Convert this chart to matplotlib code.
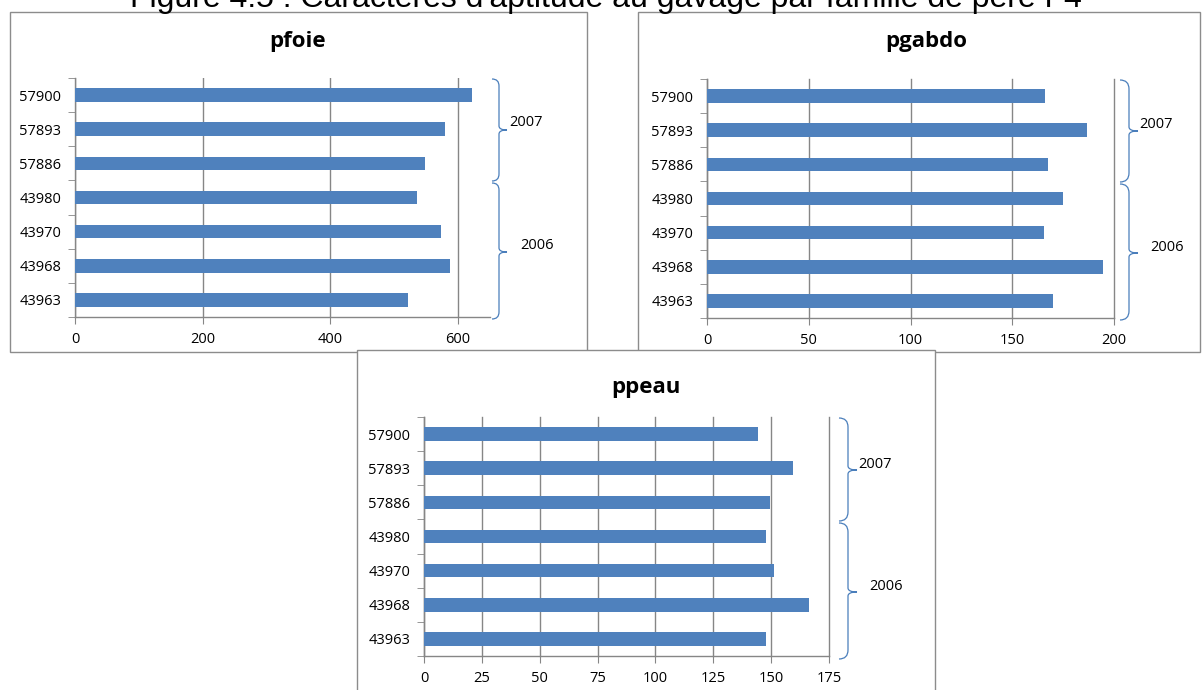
import numpy as np
import matplotlib
matplotlib.use('Agg')
import matplotlib.pyplot as plt
from matplotlib.patches import Rectangle, PathPatch
from matplotlib.path import Path
from matplotlib.transforms import Affine2D

# sire families, bottom to top
families = ['43963', '43968', '43970', '43980', '57886', '57893', '57900']
pfoie = [521, 588, 573, 535, 548, 580, 622]
pgabdo = [170.2, 194.5, 165.4, 175.0, 167.8, 186.7, 166.2]
ppeau = [147.7, 166.4, 151.3, 147.7, 149.7, 159.6, 144.5]
years = ['2006', '2007']

W, H = 1203, 690
fig = plt.figure(figsize=(W / 100, H / 100), dpi=100)
# pixel coords, origin top-left
pix = Affine2D().scale(1.0 / W, -1.0 / H).translate(0, 1) + fig.transFigure

blue = '#4f81bd'
grey = '#868686'
tickfont = 'Open Sans'


def box(x0, y0, x1, y1, z):
    fig.add_artist(Rectangle((x0, y1), x1 - x0, y0 - y1, transform=pix,
                             facecolor='white', edgecolor='#8c8c8c', lw=1.0, zorder=z))


def brace(x0, xm, xc, ytop, ycusp, ybot):
    r = xm - x0
    verts = [(x0, ytop), (xm, ytop), (xm, ytop + r),
             (xm, ycusp - 4), (xm, ycusp), (xc, ycusp),
             (xm, ycusp), (xm, ycusp + 4),
             (xm, ybot - r), (xm, ybot), (x0, ybot)]
    codes = [Path.MOVETO, Path.CURVE3, Path.CURVE3,
             Path.LINETO, Path.CURVE3, Path.CURVE3,
             Path.CURVE3, Path.CURVE3,
             Path.LINETO, Path.CURVE3, Path.CURVE3]
    fig.add_artist(PathPatch(Path(verts, codes), transform=pix, fill=False,
                             edgecolor='#4a7ebb', lw=0.9, zorder=5))


def panel(vals, title, rect, xmax, step, tpos, br, txt, edge_grid=True):
    x0, y0, x1, y1 = rect
    ax = fig.add_axes([x0 / W, 1 - y1 / H, (x1 - x0) / W, (y1 - y0) / H])
    ax.set_facecolor('none')
    y = np.arange(len(families))
    ax.barh(y, vals, height=0.4, color=blue, zorder=3)
    ax.set_xlim(0, xmax)
    ax.set_ylim(-0.5, len(families) - 0.5)
    ax.set_xticks(np.arange(0, xmax + 0.1, step))
    ax.set_yticks(y)
    ax.set_yticklabels(families)
    ax.set_yticks(np.arange(-0.5, len(families), 1.0), minor=True)
    ax.tick_params(axis='y', which='major', length=0, pad=10)
    ax.tick_params(axis='y', which='minor', length=5, color=grey, direction='out')
    ax.tick_params(axis='x', length=5, color=grey, direction='out', pad=6)
    for lab in ax.get_xticklabels() + ax.get_yticklabels():
        lab.set_fontfamily(tickfont)
        lab.set_fontsize(10.5)
    ax.grid(axis='x', color=grey, lw=1.0, zorder=0)
    if edge_grid:
        for gl in ax.get_xgridlines():
            gl.set_clip_on(False)
    for s in ['top', 'right']:
        ax.spines[s].set_visible(False)
    for s in ['left', 'bottom']:
        ax.spines[s].set_color(grey)
        ax.spines[s].set_linewidth(1.0)
    fig.text(tpos[0] / W, 1 - tpos[1] / H, title, ha='center', va='center',
             fontsize=16, fontweight='bold', family='Open Sans')
    bx0, bxm, bxc = br[0]
    for (ytop, ycusp, ybot), yr, (tx, ty) in zip(br[1], years, txt):
        brace(bx0, bxm, bxc, ytop, ycusp, ybot)
        fig.text(tx / W, 1 - ty / H, yr, ha='left', va='center',
                 fontsize=10.5, family=tickfont)
    return ax


box(10, 12, 587, 352, -3)
box(638, 12, 1200, 352, -3)
box(357, 350, 935, 700, -2)

panel(pfoie, 'pfoie', (75, 78, 490, 317), 650, 200, (298, 42),
      ((492, 499, 507), [(183, 252, 319), (79, 130, 181)]),
      [(520, 246), (509, 123)], edge_grid=False)
panel(pgabdo, 'pgabdo', (707, 79, 1114, 318), 200, 50, (926, 42),
      ((1120, 1129, 1138), [(184, 253, 320), (80, 131, 182)]),
      [(1150, 247), (1139, 125)])
panel(ppeau, 'ppeau', (424, 417, 829, 656), 175, 25, (646, 387),
      ((839, 848, 857), [(523, 592, 659), (418, 470, 521)]),
      [(869, 587), (858, 464)])

fig.text(606 / W, 1 - 6.5 / H, "Figure 4.5 : Caractères d'aptitude au gavage par famille de père F4",
         ha='center', va='baseline', fontsize=23, family='Liberation Sans')

plt.savefig('out.png', dpi=100)
